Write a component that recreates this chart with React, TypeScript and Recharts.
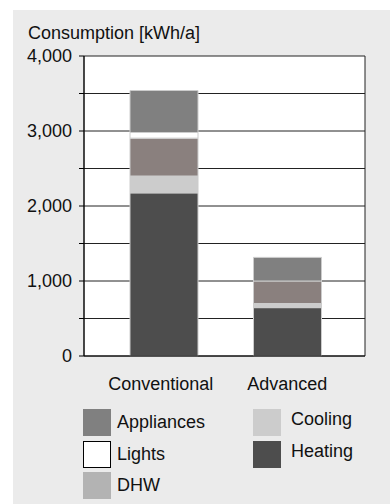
import { BarChart, Bar, XAxis, YAxis, CartesianGrid } from 'recharts'

// household consumption by end use, kWh per year
const cases = ['Conventional', 'Advanced']
const heating = [2175, 645]
const cooling = [225, 55]
const dhw = [505, 300]
const lights = [75, 0]
const appliances = [560, 315]
const yTicks = [0, 500, 1000, 1500, 2000, 2500, 3000, 3500, 4000]

const legendLeft = ['Appliances', 'Lights', 'DHW']
const legendRight = ['Cooling', 'Heating']

const FONT = '"Liberation Sans", Arial, sans-serif'

const barColors: Record<string, string> = {
  Heating: '#4d4d4d',
  Cooling: '#cccccc',
  DHW: '#8a807e',
  Lights: '#ffffff',
  Appliances: '#808080',
}
// legend swatches as drawn in the original (DHW swatch is plain grey)
const swatchColors: Record<string, string> = { ...barColors, DHW: '#b3b3b3' }

const data = cases.map((name, i) => ({
  name,
  Heating: heating[i],
  Cooling: cooling[i],
  DHW: dhw[i],
  Lights: lights[i],
  Appliances: appliances[i],
}))

const stackOrder = ['Heating', 'Cooling', 'DHW', 'Lights', 'Appliances']

const CaseTick = ({ x, y, payload, index }: any) => (
  <text x={x + (index === 0 ? -3 : 0)} y={y} dy="0.71em" textAnchor="middle"
    fontSize={18} fill="#111" fontFamily={FONT}>
    {payload.value}
  </text>
)

const LegendItem = ({ name, left, top, textLeft, textTop }: any) => (
  <>
    <div style={{
      position: 'absolute', left, top, width: 28, height: 27, boxSizing: 'border-box',
      background: swatchColors[name], border: name === 'Lights' ? '1px solid #000' : 'none',
    }} />
    <div style={{
      position: 'absolute', left: textLeft, top: textTop, fontSize: 18, lineHeight: '20px',
      color: '#111', whiteSpace: 'nowrap',
    }}>{name}</div>
  </>
)

export default function App() {
  return (
    <div style={{ position: 'absolute', left: 0, top: 0, width: 390, height: 504, fontFamily: FONT }}>
      <div style={{ position: 'absolute', left: 13, top: 10, width: 377, height: 494, background: '#ebebeb' }} />

      <div style={{ position: 'absolute', left: 28, top: 23, fontSize: 18, lineHeight: '20px', color: '#111', whiteSpace: 'nowrap' }}>
        Consumption [kWh/a]
      </div>

      <div style={{ position: 'absolute', left: 0, top: 0 }}>
        <BarChart width={390} height={504} data={data} barSize={68}
          margin={{ top: 56, right: 25, left: 24, bottom: 118 }}>
          <CartesianGrid stroke="#222" fill="#ffffff" fillOpacity={1}
            verticalPoints={[84, 365]} horizontalPoints={undefined} />
          <XAxis dataKey="name" height={30} tick={<CaseTick />} tickLine={false}
            tickSize={0} tickMargin={21} axisLine={{ stroke: '#000' }}
            padding={{ left: 18, right: 16 }} />
          <YAxis width={60} domain={[0, 4000]} ticks={yTicks} interval={0}
            tickFormatter={(v: number) => (v % 1000 === 0 ? v.toLocaleString('en-US') : '')}
            tick={{ fontSize: 18, fill: '#111', fontFamily: FONT }}
            tickSize={5} tickMargin={7} tickLine={{ stroke: '#000' }} axisLine={{ stroke: '#000' }} />
          {stackOrder.map(k => (
            <Bar key={k} dataKey={k} stackId="a" fill={barColors[k]} stroke="#cccccc"
              strokeWidth={1} isAnimationActive={false} />
          ))}
        </BarChart>
      </div>

      {legendLeft.map((name, i) => (
        <LegendItem key={name} name={name} left={83} top={409 + i * 31.5}
          textLeft={117} textTop={412 + i * 31.5} />
      ))}
      {legendRight.map((name, i) => (
        <LegendItem key={name} name={name} left={253} top={409 + i * 31.5}
          textLeft={291} textTop={409 + i * 31.5} />
      ))}
    </div>
  )
}
